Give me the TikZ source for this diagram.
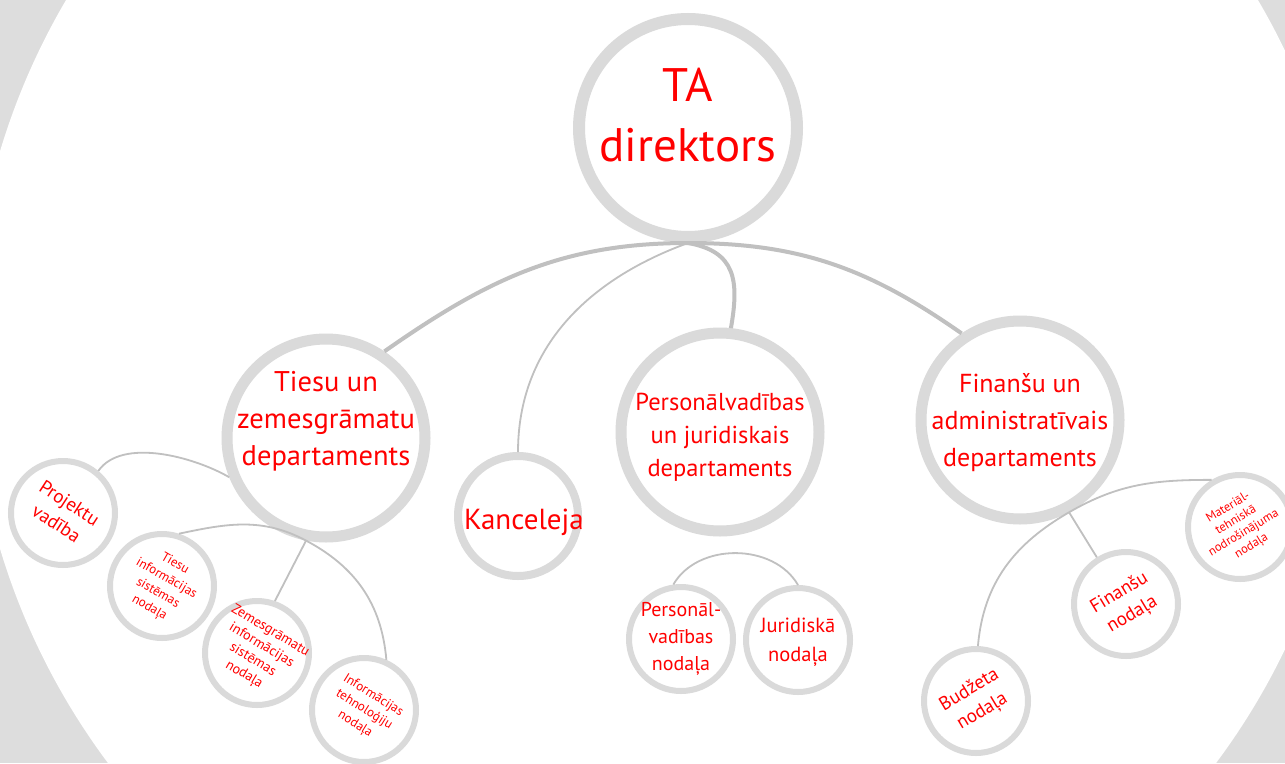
\documentclass[tikz,border=0pt]{standalone}
\usepackage{fontspec}
\setmainfont{PT Sans}
\definecolor{bggray}{RGB}{221,221,221}
\definecolor{ringgray}{RGB}{218,218,218}
\definecolor{linkgray}{RGB}{192,192,192}
\tikzset{
  ring/.style={circle, draw=ringgray, fill=white, inner sep=0pt},
  topring/.style={ring, line width=12pt, minimum size=218pt},
  deptring/.style={ring, line width=11pt, minimum size=198pt},
  midring/.style={ring, line width=8pt, minimum size=120pt},
  smallring/.style={ring, line width=6pt, minimum size=104pt},
  words/.style={align=center, text=red, inner sep=0pt},
  tilt/.style={words, rotate=#1},
  link/.style={draw=linkgray, line width=4pt},
  thinlink/.style={draw=linkgray, line width=1.8pt}
}
\begin{document}
\begin{tikzpicture}[x=1pt,y=-1pt]
\useasboundingbox (0,0) rectangle (1285,763);
\fill[bggray] (0,0) rectangle (1285,763);
\fill[white] (662,350) circle[radius=691pt];
\node[topring, label={[words, font=\fontsize{47}{60}\selectfont, yshift=13pt]center:TA\\direktors}] (ta) at (688,128) {};
\node[deptring, label={[words, font=\fontsize{28.5}{37}\selectfont, yshift=17pt]center:Tiesu un\\zemesgrāmatu\\departaments}] (tiesu) at (326,438) {};
\node[midring, label={[words, font=\fontsize{29}{34}\selectfont, xshift=6pt, yshift=-6pt]center:Kanceleja}] (kanc) at (518,516) {};
\node[deptring, label={[words, font=\fontsize{24.5}{33}\selectfont, yshift=-5pt]center:Personālvadības\\un juridiskais\\departaments}] (pers) at (720,432) {};
\node[deptring, label={[words, font=\fontsize{26}{37}\selectfont, yshift=-3pt]center:Finanšu un\\administratīvais\\departaments}] (fin) at (1020,420) {};
\node[smallring, label={[tilt=-33, font=\fontsize{19}{24}\selectfont]center:Projektu\\vadība}] (proj) at (63,513) {};
\node[smallring, label={[tilt=-30, font=\fontsize{13}{17}\selectfont]center:Tiesu\\informācijas\\sistēmas\\nodaļa}] (tis) at (162,586) {};
\node[smallring, label={[tilt=-31, font=\fontsize{14}{17}\selectfont]center:Zemesgrāmatu\\informācijas\\sistēmas\\nodaļa}] (zis) at (257,653) {};
\node[smallring, label={[tilt=-32, font=\fontsize{13}{17}\selectfont]center:Informācijas\\tehnoloģiju\\nodaļa}] (itn) at (364,710) {};
\node[smallring, label={[words, font=\fontsize{20}{27}\selectfont]center:Personāl-\\vadības\\nodaļa}] (pvn) at (681,639) {};
\node[smallring, label={[words, font=\fontsize{20.5}{29}\selectfont, yshift=-2pt]center:Juridiskā\\nodaļa}] (jur) at (798,640) {};
\node[smallring, label={[tilt=31, font=\fontsize{19}{25}\selectfont]center:Budžeta\\nodaļa}] (bud) at (976,701) {};
\node[smallring, label={[tilt=31, font=\fontsize{19}{25}\selectfont]center:Finanšu\\nodaļa}] (finn) at (1126,604) {};
\node[smallring, label={[tilt=31, font=\fontsize{12.5}{15}\selectfont]center:Materiāl-\\tehniskā\\nodrošinājuma\\nodaļa}] (mat) at (1240,527) {};
\draw[link] (tiesu.56) to[out=35,in=180] (ta.south) to[out=0,in=145] (fin.124);
\draw[thinlink] (ta.south) to[out=200,in=90] (kanc.north);
\draw[link] (ta.south) to[out=-10,in=80,looseness=1.3] (pers.84);
\draw[thinlink] (proj.50) to[out=55,in=150,looseness=0.8] (tiesu.202);
\draw[thinlink] (tis.72) to[out=12,in=152] (tiesu.259) to[out=-28,in=95] (itn.66);
\draw[thinlink] (tiesu.259) -- (zis.71);
\draw[thinlink] (pvn.98) to[out=60,in=120] (jur.90);
\draw[thinlink] (bud.88) to[out=85,in=210] (fin.298) to[out=30,in=180] (mat.121);
\draw[thinlink] (fin.298) -- (finn.122);
\end{tikzpicture}
\end{document}
